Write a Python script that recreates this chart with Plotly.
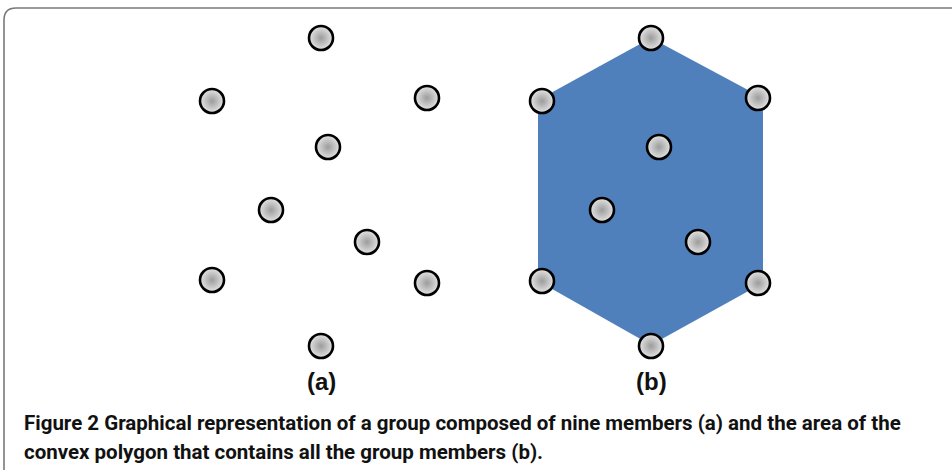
import plotly.graph_objects as go

# Member positions (picture units: x to the right, y downward)
panel_a_x = [321, 212, 427, 328, 271, 367, 212, 427, 321]
panel_a_y = [38, 101, 98, 147, 210, 242, 280, 283, 346]
panel_b_x = [651, 542, 758, 659, 602, 698, 542, 758, 651]
panel_b_y = [38, 101, 98, 147, 210, 242, 281, 283, 346]

# Convex hull of group (b)
hull_x = [538, 651, 763, 763, 651, 538, 538]
hull_y = [100, 38, 98, 283, 345, 281, 100]

panel_labels = ["(a)", "(b)"]
label_x = [321, 651]
label_y = [381, 381]

caption_1 = "Figure 2 Graphical representation of a group composed of nine members (<b>a</b>) and the area of the"
caption_2 = "convex polygon that contains all the group members (<b>b</b>)."

fig = go.Figure()

fig.add_trace(go.Scatter(
    x=hull_x, y=hull_y, mode="lines", fill="toself",
    fillcolor="#4f80bb", line=dict(color="#4f80bb", width=0),
    hoverinfo="skip", showlegend=False,
))

marker_style = dict(
    size=24, color="#e4e4e4",
    gradient=dict(type="radial", color="#9c9c9c"),
    line=dict(color="#000000", width=2.6),
)
for xs, ys in [(panel_a_x, panel_a_y), (panel_b_x, panel_b_y)]:
    fig.add_trace(go.Scatter(x=xs, y=ys, mode="markers", marker=marker_style,
                             showlegend=False, hoverinfo="skip"))

for t, lx, ly in zip(panel_labels, label_x, label_y):
    fig.add_annotation(x=lx, y=ly, xref="x", yref="y", text=f"<b>{t}</b>",
                       showarrow=False, xanchor="center", yanchor="middle",
                       font=dict(family="Liberation Sans, Arial", size=24, color="#111111"))

cap_font = dict(family="Roboto, Liberation Sans", size=20.5, color="#111111")
fig.add_annotation(x=22, y=423, xref="x", yref="y", text=f"<b>{caption_1}</b>",
                   showarrow=False, xanchor="left", yanchor="middle", font=cap_font)
fig.add_annotation(x=22, y=452, xref="x", yref="y", text=f"<b>{caption_2}</b>",
                   showarrow=False, xanchor="left", yanchor="middle", font=cap_font)

# outer frame (top-left rounded corner, right/bottom run off the page)
fig.add_shape(type="path", xref="x", yref="y",
              path="M 4 480 L 4 20 Q 4 8 16 8 L 960 8",
              line=dict(color="#7a7a7a", width=1.6))

fig.update_xaxes(range=[0, 952], visible=False, fixedrange=True)
fig.update_yaxes(range=[470, 0], visible=False, fixedrange=True)
fig.update_layout(
    width=952, height=470,
    margin=dict(l=0, r=0, t=0, b=0),
    paper_bgcolor="white", plot_bgcolor="white",
)

fig.write_html(
    "out.html",
    config={"displayModeBar": False},
    post_script="document.body.style.margin='0';document.body.style.overflow='hidden';",
)
